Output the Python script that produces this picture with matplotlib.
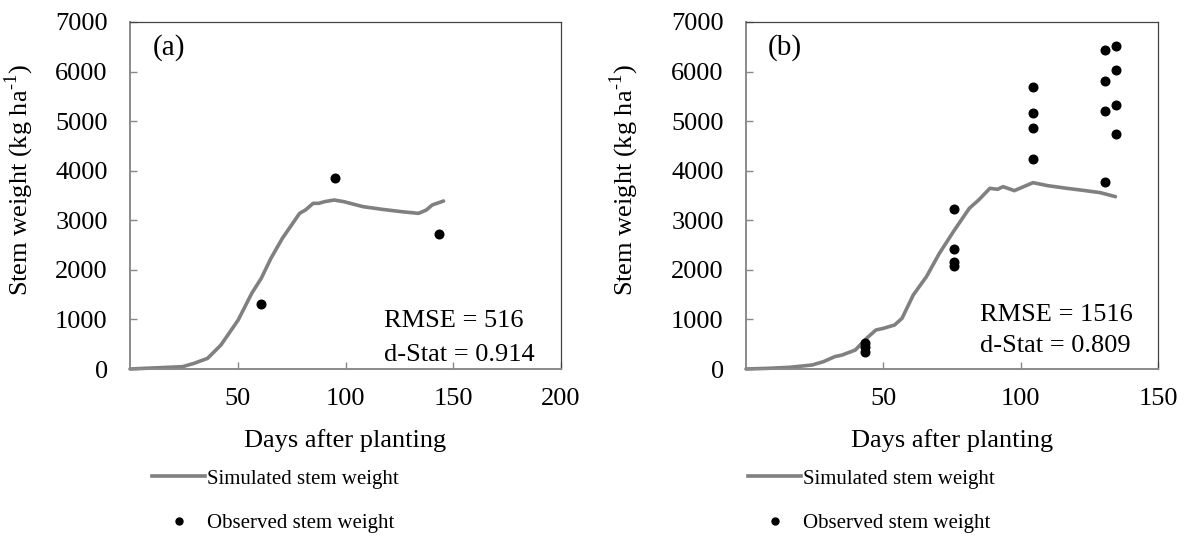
import matplotlib
matplotlib.use("Agg")
import matplotlib.pyplot as plt
from matplotlib.lines import Line2D

plt.rcParams['font.family'] = ['Liberation Serif', 'DejaVu Serif']
plt.rcParams['mathtext.fontset'] = 'custom'
plt.rcParams['mathtext.rm'] = 'Liberation Serif'

# ---- Panel (a) data ----
sim_a_days = [0, 24.4, 29.7, 36.0, 42.2, 50.2, 56.5, 60.9, 65.4, 70.7, 78.7, 81.4, 85.0,
              87.6, 90.3, 94.7, 99.2, 108.1, 117.0, 125.9, 133.9, 137.5, 140.2, 145.5]
sim_a_vals = [0, 47, 114, 215, 484, 988, 1527, 1829, 2233, 2636, 3140, 3207, 3342,
              3342, 3376, 3409, 3376, 3275, 3221, 3174, 3140, 3207, 3308, 3389]
obs_a_days = [60.9, 95.1, 143.2]
obs_a_vals = [1311, 3860, 2717]

# ---- Panel (b) data ----
sim_b_days = [0, 7.8, 15.9, 24.1, 28.2, 32.3, 35.0, 39.8, 43.9, 47.3, 50.0, 54.1, 56.8,
              60.9, 65.7, 70.4, 75.9, 81.3, 84.7, 88.8, 91.6, 93.6, 97.7, 104.5, 109.9,
              116.8, 123.6, 129.0, 134.5]
sim_b_vals = [0, 13, 34, 81, 148, 249, 282, 383, 619, 787, 820, 888, 1022,
              1493, 1863, 2333, 2804, 3241, 3409, 3645, 3625, 3678, 3598, 3759, 3698,
              3645, 3598, 3557, 3477]
obs_b_days = [43.5, 43.5, 43.5,
              75.9, 75.9, 75.9, 75.9,
              104.5, 104.5, 104.5, 104.5,
              130.7, 130.7, 130.7, 130.7,
              134.7, 134.7, 134.7, 134.7]
obs_b_vals = [520, 440, 350,
              3222, 2415, 2166, 2085,
              5695, 5171, 4869, 4243,
              6437, 5815, 5198, 3765,
              6510, 6040, 5319, 4734]

yticks = [0, 1000, 2000, 3000, 4000, 5000, 6000, 7000]
xticks_a = [50, 100, 150, 200]
xticks_b = [50, 100, 150]
panel_labels = ['(a)', '(b)']
stats_a = ['RMSE = 516', 'd-Stat = 0.914']
stats_b = ['RMSE = 1516', 'd-Stat = 0.809']
legend_labels = ['Simulated stem weight', 'Observed stem weight']

W, H = 1186, 538
fig = plt.figure(figsize=(W / 100, H / 100), dpi=100)

def fbox(l, r, t, b):
    return [l / W, 1 - b / H, (r - l) / W, (b - t) / H]

ax_a = fig.add_axes(fbox(130, 561, 22, 369))
ax_b = fig.add_axes(fbox(746, 1158, 22, 369))

FS = 19
sim_color = '#808080'

def style(ax, xmax, xticks, sim_d, sim_v, obs_d, obs_v, lab, stats, sx, sy1, sy2, ylx, lx):
    ax.plot(sim_d, sim_v, color=sim_color, lw=2.6, solid_capstyle='round', zorder=2, clip_on=False)
    ax.plot(obs_d, obs_v, 'o', color='black', markersize=6.2, zorder=3, clip_on=False)
    ax.set_xlim(0, xmax)
    ax.set_ylim(0, 7000)
    ax.set_xticks(xticks)
    ax.set_yticks(yticks)
    ax.tick_params(axis='both', direction='in', length=5, width=1, colors='#888888',
                   labelcolor='black', labelsize=FS)
    ax.tick_params(axis='x', pad=14)
    ax.tick_params(axis='y', pad=16)
    for s in ['left', 'bottom']:
        ax.spines[s].set_color('#8a8a8a')
        ax.spines[s].set_linewidth(1.4)
    for s in ['top', 'right']:
        ax.spines[s].set_color('#444444')
        ax.spines[s].set_linewidth(0.9)
    ax.set_xlabel('Days after planting', fontsize=FS)
    ax.xaxis.set_label_coords(0.5, -0.172)
    ax.set_ylabel('Stem weight (kg ha$^{\\text{-1}}$)', fontsize=FS)
    ax.yaxis.set_label_coords(ylx, 0.545)
    ax.text(0.052, 0.925, lab, transform=ax.transAxes, fontsize=21, va='center', ha='left')
    ax.text(sx, sy1, stats[0], transform=ax.transAxes, fontsize=FS, va='center', ha='left')
    ax.text(sx, sy2, stats[1], transform=ax.transAxes, fontsize=FS, va='center', ha='left',
            clip_on=True)
    handles = [Line2D([], [], color=sim_color, lw=2.6),
               Line2D([], [], ls='none', marker='o', color='black', markersize=5)]
    fig.legend(handles, legend_labels, loc='upper left', bbox_to_anchor=(lx, 0.128),
               frameon=False, fontsize=15, handlelength=2.55, handletextpad=0.1,
               labelspacing=1.2, borderpad=0, borderaxespad=0)

style(ax_a, 200, xticks_a, sim_a_days, sim_a_vals, obs_a_days, obs_a_vals,
      panel_labels[0], stats_a, 0.59, 0.138, 0.04, -0.218, 152 / W)
style(ax_b, 150, xticks_b, sim_b_days, sim_b_vals, obs_b_days, obs_b_vals,
      panel_labels[1], stats_b, 0.568, 0.156, 0.066, -0.255, 748 / W)

fig.savefig('out.png', dpi=100)
